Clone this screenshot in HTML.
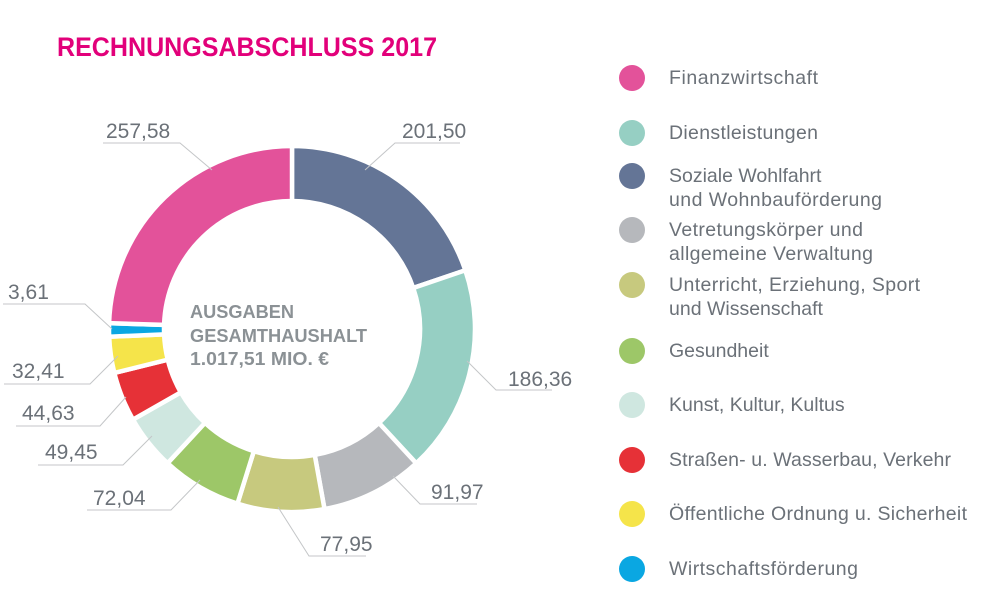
<!DOCTYPE html>
<html><head><meta charset="utf-8"><style>
html,body{margin:0;padding:0;background:#fff;}
svg{display:block;}
text{font-family:"Liberation Sans",sans-serif;}
</style></head><body>
<svg id="s" width="1000" height="600" viewBox="0 0 1000 600" xmlns="http://www.w3.org/2000/svg">
<text x="57" y="56" font-size="27" font-weight="bold" fill="#e2007a" textLength="380" lengthAdjust="spacingAndGlyphs">RECHNUNGSABSCHLUSS 2017</text>
<g id="ring"></g>
<g fill="#8b9195" font-size="18" font-weight="bold">
<text x="190" y="318" textLength="104" lengthAdjust="spacingAndGlyphs">AUSGABEN</text>
<text x="190" y="342" textLength="177" lengthAdjust="spacingAndGlyphs">GESAMTHAUSHALT</text>
<text x="190" y="365" textLength="139" lengthAdjust="spacingAndGlyphs">1.017,51 MIO. €</text>
</g>
<g stroke="#c4c6c8" stroke-width="1" fill="none">
<polyline points="103,143 180,143 212,170"/>
<polyline points="365,170 395,143 460,143"/>
<polyline points="467,361 496,390 552,390"/>
<polyline points="393,476 420,504 477,504"/>
<polyline points="278,507 309,556 366,556"/>
<polyline points="200,480 171,510 87,510"/>
<polyline points="38,465 123,465 152,436"/>
<polyline points="16,426 100,426 126,397"/>
<polyline points="4,384 90,384 118,356"/>
<polyline points="3,304 85,304 112,329"/>
</g>
<g fill="#6b7178" font-size="21">
<text x="106" y="138">257,58</text>
<text x="402" y="138">201,50</text>
<text x="508" y="386">186,36</text>
<text x="431" y="499">91,97</text>
<text x="320" y="551">77,95</text>
<text x="93" y="505">72,04</text>
<text x="45" y="459">49,45</text>
<text x="22" y="420">44,63</text>
<text x="12" y="378">32,41</text>
<text x="8" y="299">3,61</text>
</g>
<g id="leg" fill="#6b7178" font-size="19.5">
<circle cx="632" cy="78" r="13" fill="#e3529a"/><text x="669" y="84" textLength="149">Finanzwirtschaft</text>
<circle cx="632" cy="133" r="13" fill="#96cfc3"/><text x="669" y="139" textLength="149">Dienstleistungen</text>
<circle cx="632" cy="176" r="13" fill="#647596"/><text x="669" y="182">Soziale Wohlfahrt</text><text x="669" y="206" textLength="213">und Wohnbauförderung</text>
<circle cx="632" cy="230" r="13" fill="#b6b8bc"/><text x="669" y="236" textLength="194">Vetretungskörper und</text><text x="669" y="260" textLength="204">allgemeine Verwaltung</text>
<circle cx="632" cy="285" r="13" fill="#c7c97e"/><text x="669" y="291" textLength="251">Unterricht, Erziehung, Sport</text><text x="669" y="315">und Wissenschaft</text>
<circle cx="632" cy="351" r="13" fill="#9dc768"/><text x="669" y="357">Gesundheit</text>
<circle cx="632" cy="405" r="13" fill="#cfe7e0"/><text x="669" y="411">Kunst, Kultur, Kultus</text>
<circle cx="632" cy="460" r="13" fill="#e63137"/><text x="669" y="466" textLength="282">Straßen- u. Wasserbau, Verkehr</text>
<circle cx="632" cy="514" r="13" fill="#f5e44a"/><text x="669" y="520" textLength="298">Öffentliche Ordnung u. Sicherheit</text>
<circle cx="632" cy="569" r="13" fill="#0aa7e2"/><text x="669" y="575" textLength="189">Wirtschaftsförderung</text>
</g>
</svg>
<script>
var d=[[201.5,"#647596"],[186.36,"#96cfc3"],[91.97,"#b6b8bc"],[77.95,"#c7c97e"],[72.04,"#9dc768"],[49.45,"#cfe7e0"],[44.63,"#e63137"],[32.41,"#f5e44a"],[12,"#0aa7e2"],[249.19,"#e3529a"]];
var tot=0;d.forEach(function(x){tot+=x[0];});
var cx=292,cy=329,R=183,r=128,a=0,h="";
function p(rad,ang){return (cx+rad*Math.sin(ang)).toFixed(2)+","+(cy-rad*Math.cos(ang)).toFixed(2);}
d.forEach(function(x){
 var a0=a,a1=a+x[0]/tot*2*Math.PI;a=a1;
 var lg=(a1-a0)>Math.PI?1:0;
 h+='<path d="M'+p(R,a0)+' A'+R+','+R+' 0 '+lg+' 1 '+p(R,a1)+' L'+p(r,a1)+' A'+r+','+r+' 0 '+lg+' 0 '+p(r,a0)+' Z" fill="'+x[1]+'" stroke="#fff" stroke-width="4.5" stroke-linejoin="miter"/>';
});
document.getElementById("ring").innerHTML=h;
</script>
</body></html>
